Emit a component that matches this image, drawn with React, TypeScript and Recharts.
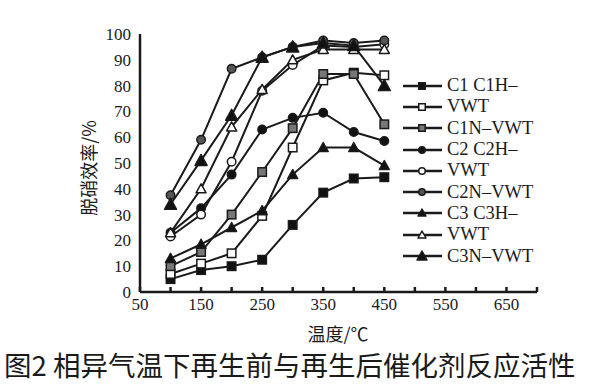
import React from 'react';
import { LineChart, Line, XAxis, YAxis } from 'recharts';

// temperatures (°C) and denitration efficiency (%)
const temps = [100, 150, 200, 250, 300, 350, 400, 450];
const c1 = [5, 8.5, 10, 12.5, 26, 38.5, 44, 44.5];
const c1h = [7, 11, 15, 29.5, 56, 82, 85, 84];
const c1n = [10, 15.5, 30, 46.5, 63.5, 84.5, 84.5, 65];
const c2 = [23, 32.5, 45.5, 63, 67.5, 69.5, 62, 58.5];
const c2h = [21.5, 30, 50.5, 78, 88, 95.5, 95, 96];
const c2n = [37.5, 59, 86.5, 91, 95, 97.5, 96.5, 97.5];
const c3 = [13, 18.5, 25, 31.5, 45.5, 56, 56, 49];
const c3h = [23, 40, 64, 78.5, 90, 94, 94, 94];
const c3n = [34, 51, 68.5, 91, 95, 96.5, 95.5, 80];

const xTicks = [50, 100, 150, 200, 250, 300, 350, 400, 450, 500, 550, 600, 650, 700];
const xLabels = [50, 150, 250, 350, 450, 550, 650];
const yTicks = [0, 10, 20, 30, 40, 50, 60, 70, 80, 90, 100];

type Shape = 'square' | 'circle' | 'triangle';

const series: { key: string; name: string; values: number[]; shape: Shape; fill: string; size: number }[] = [
  { key: 'c1', name: 'C1 C1H–', values: c1, shape: 'square', fill: '#111', size: 8.5 },
  { key: 'c1h', name: 'VWT', values: c1h, shape: 'square', fill: '#fff', size: 8.5 },
  { key: 'c1n', name: 'C1N–VWT', values: c1n, shape: 'square', fill: '#777', size: 8.5 },
  { key: 'c2', name: 'C2 C2H–', values: c2, shape: 'circle', fill: '#111', size: 8.5 },
  { key: 'c2h', name: 'VWT', values: c2h, shape: 'circle', fill: '#fff', size: 8.5 },
  { key: 'c2n', name: 'C2N–VWT', values: c2n, shape: 'circle', fill: '#555', size: 8.5 },
  { key: 'c3', name: 'C3 C3H–', values: c3, shape: 'triangle', fill: '#111', size: 8 },
  { key: 'c3h', name: 'VWT', values: c3h, shape: 'triangle', fill: '#fff', size: 8 },
  { key: 'c3n', name: 'C3N–VWT', values: c3n, shape: 'triangle', fill: '#111', size: 10 },
];

const data = temps.map((t, i) => {
  const row: Record<string, number> = { t };
  series.forEach((s) => {
    row[s.key] = s.values[i];
  });
  return row;
});

const ink = '#1a1a1a';
const serif = '"Liberation Serif", "DejaVu Serif", serif';
const cjk = '"Noto Sans CJK SC", sans-serif';

const Marker = ({ cx, cy, shape, fill, size }: { cx: number; cy: number; shape: Shape; fill: string; size: number }) => {
  const h = size / 2;
  if (shape === 'square') {
    return <rect x={cx - h} y={cy - h} width={size} height={size} fill={fill} stroke={ink} strokeWidth={1.5} />;
  }
  if (shape === 'circle') {
    return <circle cx={cx} cy={cy} r={h} fill={fill} stroke={ink} strokeWidth={1.5} />;
  }
  const pts = `${cx},${cy - h - 1} ${cx - h - 1},${cy + h} ${cx + h + 1},${cy + h}`;
  return <polygon points={pts} fill={fill} stroke={ink} strokeWidth={1.5} strokeLinejoin="round" />;
};

const renderDot = (s: (typeof series)[number]) => (props: any) => {
  const { cx, cy, index } = props;
  if (cx == null || cy == null) return <g key={`${s.key}-${index}`} />;
  return (
    <g key={`${s.key}-${index}`}>
      <Marker cx={cx} cy={cy} shape={s.shape} fill={s.fill} size={s.size} />
    </g>
  );
};

const XTick = (props: any) => {
  const { x, y, payload } = props;
  const v = payload.value as number;
  return (
    <text x={x} y={y} dy={13} textAnchor="middle" fontFamily={serif} fontSize={17} fill={ink}>
      {xLabels.includes(v) ? String(v) : ''}
    </text>
  );
};

export default function App() {
  return (
    <div style={{ position: 'absolute', left: 0, top: 0, width: 606, height: 391, background: '#fff' }}>
      <LineChart
        width={606}
        height={391}
        data={data}
        margin={{ top: 34, right: 69, bottom: 69, left: 100 }}
      >
        <XAxis
          dataKey="t"
          type="number"
          domain={[50, 700]}
          ticks={xTicks}
          interval={0}
          tick={<XTick />}
          tickSize={-5}
          tickMargin={10}
          stroke={ink}
          strokeWidth={2.5}
          height={30}
        />
        <YAxis
          type="number"
          domain={[0, 100]}
          ticks={yTicks}
          interval={0}
          tickLine={false}
          tickSize={0}
          tickMargin={9}
          stroke={ink}
          strokeWidth={2.5}
          width={40}
          tick={{ fontFamily: serif, fontSize: 17, fill: ink }}
        />
        {series.map((s) => (
          <Line
            key={s.key}
            dataKey={s.key}
            name={s.name}
            type="linear"
            stroke={ink}
            strokeWidth={2}
            dot={renderDot(s)}
            activeDot={false}
            isAnimationActive={false}
          />
        ))}
      </LineChart>
      <div
        style={{
          position: 'absolute',
          left: 402,
          top: 75,
          background: '#fff',
          fontFamily: serif,
          fontSize: 18.5,
          color: ink,
          paddingRight: 4,
        }}
      >
        {series.map((s) => (
          <div key={s.key} style={{ display: 'flex', alignItems: 'center', height: 21.3 }}>
            <svg width={42} height={14} style={{ marginRight: 3 }}>
              <line x1={1} y1={7} x2={40} y2={7} stroke={ink} strokeWidth={2.5} />
              <Marker cx={20} cy={7} shape={s.shape} fill={s.fill} size={s.size - 2} />
            </svg>
            <span style={{ lineHeight: '21px', whiteSpace: 'nowrap' }}>{s.name}</span>
          </div>
        ))}
      </div>
      <div
        style={{
          position: 'absolute',
          left: 88,
          top: 168,
          transform: 'translate(-50%, -50%) rotate(-90deg)',
          fontFamily: cjk,
          fontSize: 18,
          color: ink,
          whiteSpace: 'nowrap',
        }}
      >
        脱硝效率/%
      </div>
      <div
        style={{
          position: 'absolute',
          left: 338,
          top: 333,
          transform: 'translate(-50%, -50%)',
          fontFamily: cjk,
          fontSize: 18,
          color: ink,
          whiteSpace: 'nowrap',
        }}
      >
        温度/℃
      </div>
      <div
        style={{
          position: 'absolute',
          left: 4,
          top: 364,
          transform: 'translateY(-50%)',
          fontFamily: cjk,
          fontSize: 27.5,
          color: ink,
          whiteSpace: 'nowrap',
        }}
      >
        图2 相异气温下再生前与再生后催化剂反应活性
      </div>
    </div>
  );
}
